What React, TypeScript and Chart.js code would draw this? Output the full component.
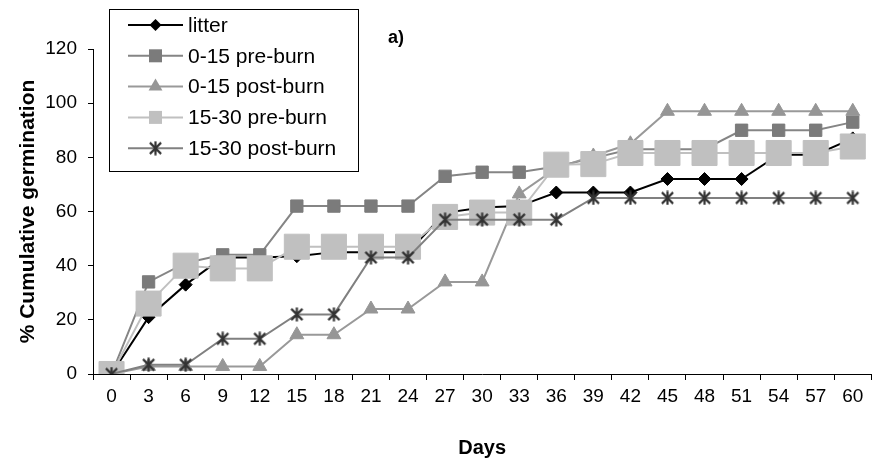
import React, { useEffect, useRef } from 'react';
import { Chart, registerables } from 'chart.js';

Chart.register(...registerables);

const FONT = '"Liberation Sans", Arial, Helvetica, sans-serif';

const days = ['0', '3', '6', '9', '12', '15', '18', '21', '24', '27', '30', '33', '36', '39', '42', '45', '48', '51', '54', '57', '60'];
const litter = [0, 21, 33, 43, 43, 43.5, 45, 45, 45, 59.5, 61.5, 62, 67, 67, 67, 72, 72, 72, 81, 81, 87];
const pre0to15 = [0, 34, 41, 44, 44, 62, 62, 62, 62, 73, 74.5, 74.5, 76.6, 79.7, 83, 83, 83, 90, 90, 90, 93];
const post0to15 = [0, 2.8, 2.8, 2.8, 2.8, 14.5, 14.5, 24, 24, 34, 34, 66.5, 76, 80.5, 85, 97, 97, 97, 97, 97, 97];
const pre15to30 = [0, 26, 40, 39, 39, 47, 47, 47, 47, 58, 59.6, 59.6, 77.3, 77.5, 81.6, 81.6, 81.6, 81.6, 81.6, 81.6, 84];
const post15to30 = [0, 3.4, 3.4, 13, 13, 22, 22, 43, 43, 57, 57, 57, 57, 65, 65, 65, 65, 65, 65, 65, 65];
const seriesNames = ['litter', '0-15 pre-burn', '0-15 post-burn', '15-30 pre-burn', '15-30 post-burn'];
const yMin = 0;
const yMax = 120;
const yStep = 20;
const panelLabel = 'a)';
const xTitle = 'Days';
const yTitle = '% Cumulative germination';

function makeStar(size: number, color: string, lw: number): HTMLCanvasElement {
  const c = document.createElement('canvas');
  c.width = size;
  c.height = size;
  const ctx = c.getContext('2d')!;
  ctx.strokeStyle = color;
  ctx.lineWidth = lw;
  ctx.lineCap = 'butt';
  const h = size / 2;
  const r = size / 2 - 0.5;
  const d = r * 0.8;
  ctx.beginPath();
  ctx.moveTo(h, h - r);
  ctx.lineTo(h, h + r);
  ctx.moveTo(h - d, h - d);
  ctx.lineTo(h + d, h + d);
  ctx.moveTo(h + d, h - d);
  ctx.lineTo(h - d, h + d);
  ctx.stroke();
  return c;
}

const legendPlugin = {
  id: 'boxLegend',
  afterDraw(chart: any) {
    const ctx: CanvasRenderingContext2D = chart.ctx;
    ctx.save();
    ctx.fillStyle = '#fff';
    ctx.fillRect(109.5, 9.5, 249, 162);
    ctx.strokeStyle = '#000';
    ctx.lineWidth = 1;
    ctx.strokeRect(109.5, 9.5, 249, 162);
    chart.data.datasets.forEach((ds: any, i: number) => {
      const y = 25 + i * 30.8;
      ctx.strokeStyle = ds.borderColor;
      ctx.lineWidth = 2;
      ctx.beginPath();
      ctx.moveTo(128, y);
      ctx.lineTo(183, y);
      ctx.stroke();
      const cx = 155.5;
      ctx.fillStyle = ds.pointBackgroundColor;
      const ps = ds.pointStyle;
      if (ps === 'rectRot') {
        const r = 6;
        ctx.beginPath();
        ctx.moveTo(cx, y - r);
        ctx.lineTo(cx + r, y);
        ctx.lineTo(cx, y + r);
        ctx.lineTo(cx - r, y);
        ctx.closePath();
        ctx.fill();
      } else if (ps === 'rect') {
        const s = 6.5;
        ctx.fillRect(cx - s, y - s, 2 * s, 2 * s);
      } else if (ps === 'triangle') {
        const r = 8;
        ctx.beginPath();
        ctx.moveTo(cx, y - r);
        ctx.lineTo(cx + r * 0.866, y + r / 2);
        ctx.lineTo(cx - r * 0.866, y + r / 2);
        ctx.closePath();
        ctx.fill();
      } else if (ps && ps.width) {
        ctx.drawImage(ps, cx - ps.width / 2, y - ps.height / 2);
      }
      ctx.fillStyle = '#000';
      ctx.font = `21px ${FONT}`;
      ctx.textBaseline = 'middle';
      ctx.textAlign = 'left';
      ctx.fillText(seriesNames[i], 188, y + 1);
    });
    ctx.font = `bold 18px ${FONT}`;
    ctx.textBaseline = 'alphabetic';
    ctx.fillStyle = '#000';
    ctx.fillText(panelLabel, 388, 43);
    ctx.restore();
  },
};

export default function App() {
  const ref = useRef<HTMLCanvasElement>(null);
  useEffect(() => {
    const star = makeStar(15, '#333333', 2.2);
    const chart = new Chart(ref.current!, {
      type: 'line',
      data: {
        labels: days,
        datasets: [
          {
            label: seriesNames[0], data: litter, order: 5,
            borderColor: '#000000', backgroundColor: '#000000',
            pointBackgroundColor: '#000000', pointBorderColor: '#000000',
            pointStyle: 'rectRot', pointRadius: 6.5, pointBorderWidth: 1,
          },
          {
            label: seriesNames[1], data: pre0to15, order: 4,
            borderColor: '#858585', backgroundColor: '#7b7b7b',
            pointBackgroundColor: '#7b7b7b', pointBorderColor: '#7b7b7b',
            pointStyle: 'rect', pointRadius: 8.7, pointBorderWidth: 1,
          },
          {
            label: seriesNames[2], data: post0to15, order: 3,
            borderColor: '#999999', backgroundColor: '#969696',
            pointBackgroundColor: '#969696', pointBorderColor: '#969696',
            pointStyle: 'triangle', pointRadius: 8, pointBorderWidth: 1,
          },
          {
            label: seriesNames[3], data: pre15to30, order: 2,
            borderColor: '#c0c0c0', backgroundColor: '#c0c0c0',
            pointBackgroundColor: '#c0c0c0', pointBorderColor: '#c0c0c0',
            pointStyle: 'rect', pointRadius: 17.7, pointBorderWidth: 1,
          },
          {
            label: seriesNames[4], data: post15to30, order: 1,
            borderColor: '#808080', backgroundColor: '#333333',
            pointBackgroundColor: '#333333', pointBorderColor: '#333333',
            pointStyle: star as any, pointRadius: 7, pointBorderWidth: 0,
          },
        ],
      },
      options: {
        responsive: false,
        animation: false,
        layout: { padding: { top: 49, right: 1, left: 0, bottom: 0 } },
        elements: { line: { tension: 0, borderWidth: 2 } },
        plugins: { legend: { display: false }, tooltip: { enabled: false } },
        scales: {
          x: {
            type: 'category',
            offset: true,
            grid: { offset: true, drawOnChartArea: false, drawTicks: true, tickLength: 6, color: '#000', lineWidth: 1 },
            border: { display: true, color: '#000', width: 1 },
            ticks: { color: '#000', font: { size: 19, family: FONT }, padding: 5, maxRotation: 0, autoSkip: false },
            title: { display: true, text: xTitle, color: '#000', font: { size: 20, weight: 'bold', family: FONT }, padding: { top: 0, bottom: 3 } },
            afterFit: (s: any) => { s.height = 89; },
          },
          y: {
            min: yMin,
            max: yMax,
            ticks: { stepSize: yStep, color: '#000', font: { size: 19, family: FONT }, padding: 11 },
            grid: { drawOnChartArea: false, drawTicks: true, tickLength: 5, color: '#000' },
            border: { display: true, color: '#000', width: 1 },
            title: { display: true, text: yTitle, color: '#000', font: { size: 21, weight: 'bold', family: FONT }, padding: { top: 16, bottom: 0 } },
            afterFit: (s: any) => { s.width = 93; },
          },
        },
      },
      plugins: [legendPlugin],
    } as any);
    return () => chart.destroy();
  }, []);
  return (
    <div style={{ position: 'fixed', left: 0, top: 0, width: 890, height: 463, background: '#fff' }}>
      <canvas ref={ref} width={890} height={463} style={{ display: 'block' }} />
    </div>
  );
}
